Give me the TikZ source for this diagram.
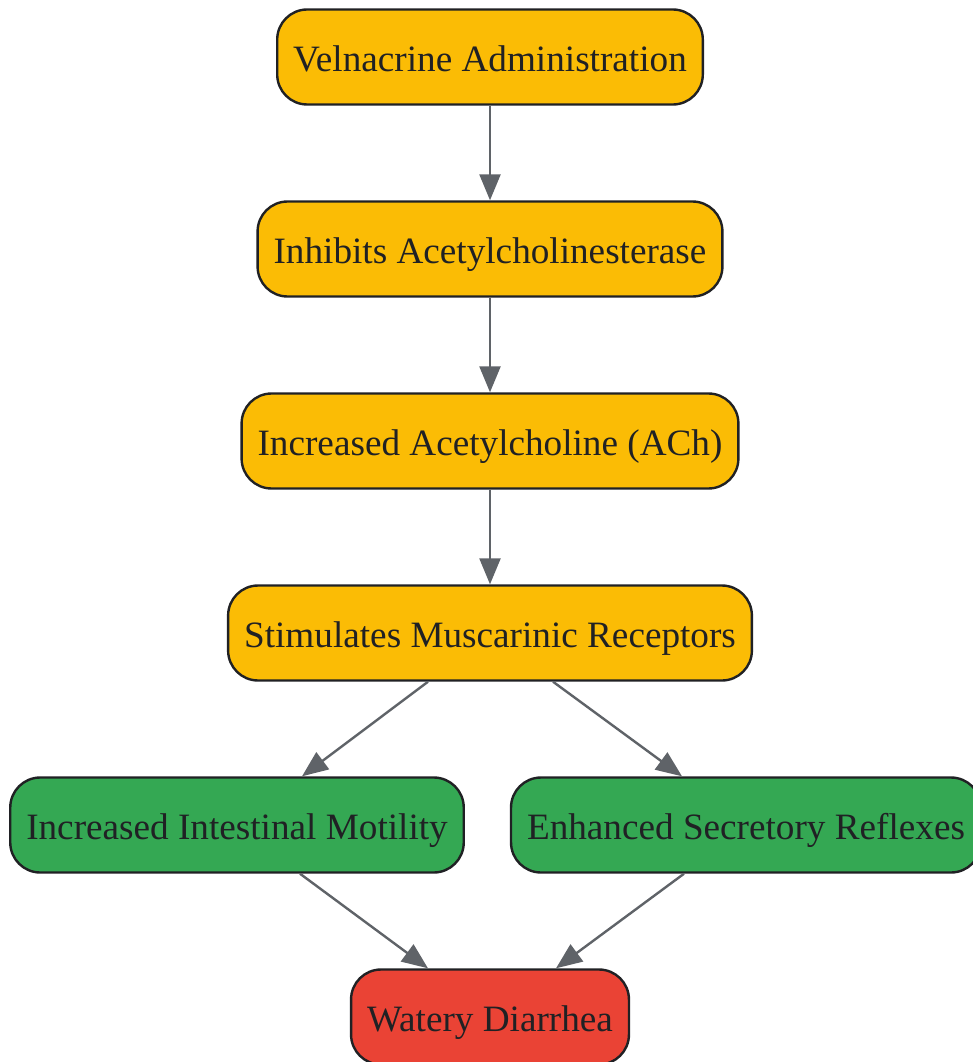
\documentclass[tikz,border=0pt]{standalone}
\usepackage{fontspec}
\setmainfont{Liberation Serif}
\usetikzlibrary{arrows.meta}
\definecolor{gorange}{HTML}{FBBC05}
\definecolor{ggreen}{HTML}{34A853}
\definecolor{gred}{HTML}{EA4335}
\definecolor{edgegray}{HTML}{5F6368}
\definecolor{inkdark}{HTML}{202124}
\tikzset{
  box/.style={draw=inkdark, line width=2.4pt, rounded corners=30pt, minimum height=95pt,
    inner xsep=16pt, text height=30pt, text depth=1pt, text=inkdark, font=\fontsize{37.2}{42}\selectfont},
  orangebox/.style={box, fill=gorange},
  greenbox/.style={box, fill=ggreen},
  redbox/.style={box, fill=gred},
  flow/.style={draw=edgegray, line width=2.4pt, -{Triangle[length=26pt,width=21pt]}}
}
\begin{document}
\begin{tikzpicture}[x=1pt,y=-1pt]
\useasboundingbox (0,0) rectangle (972,1062);
\node[orangebox] (n1) at (490,57) {Velnacrine Administration};
\node[orangebox] (n2) at (490,249) {Inhibits Acetylcholinesterase};
\node[orangebox] (n3) at (490,441) {Increased Acetylcholine (ACh)};
\node[orangebox] (n4) at (490,633) {Stimulates Muscarinic Receptors};
\node[greenbox] (n5) at (237,825) {Increased Intestinal Motility};
\node[greenbox] (n6) at (746,825) {Enhanced Secretory Reflexes};
\node[redbox] (n7) at (490,1017) {Watery Diarrhea};
\draw[flow] (n1) -- (n2);
\draw[flow] (n2) -- (n3);
\draw[flow] (n3) -- (n4);
\draw[flow] ([xshift=-62pt]n4.south) -- ([xshift=65pt]n5.north);
\draw[flow] ([xshift=63pt]n4.south) -- ([xshift=-64pt]n6.north);
\draw[flow] ([xshift=63pt]n5.south) -- ([xshift=-62pt]n7.north);
\draw[flow] ([xshift=-62pt]n6.south) -- ([xshift=66pt]n7.north);
\end{tikzpicture}
\end{document}
